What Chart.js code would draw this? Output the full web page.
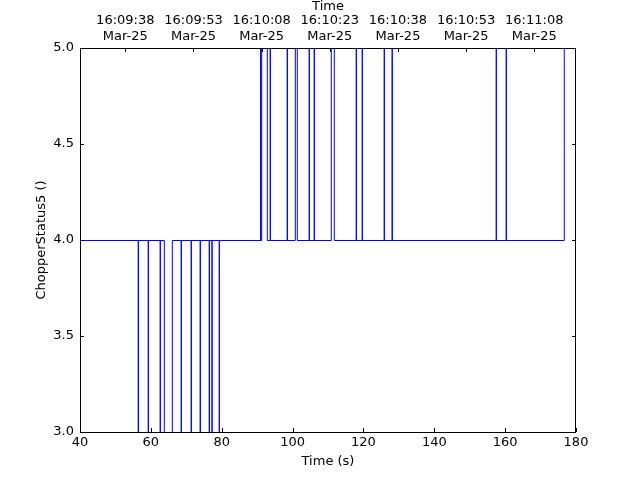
<!DOCTYPE html>
<html>
<head>
<meta charset="utf-8">
<script src="https://cdn.jsdelivr.net/npm/chart.js@4"></script>
<style>
  body { margin: 0; background: #fff; }
  canvas { display: block; }
</style>
</head>
<body>
<canvas id="chopper-chart" width="640" height="480"></canvas>
<script>
// Step samples (time in s, chopper status)
const times = [40, 56.46, 56.46, 59.28, 59.28, 62.66, 62.66, 63.79, 66.05, 68.59, 68.59,
  71.41, 71.41, 73.95, 73.95, 76.5, 76.5, 77.26, 77.26, 79.32, 79.32,
  91.0, 91.0, 91.28, 92.87, 93.71, 93.71, 98.51, 98.51, 100.77, 101.33,
  104.72, 104.72, 106.13, 106.13, 110.93, 111.78, 117.99, 117.99, 119.68, 119.68,
  125.89, 125.89, 128.12, 128.12, 157.5, 157.5, 160.32, 160.32, 176.69];
const status = [4, 3, 4, 3, 4, 3, 4, 3, 4, 3, 4,
  3, 4, 3, 4, 3, 4, 3, 4, 3, 4,
  5, 4, 5, 4, 5, 4, 5, 4, 5, 4,
  5, 4, 5, 4, 5, 4, 5, 4, 5, 4,
  5, 4, 5, 4, 5, 4, 5, 4, 5];

// Top axis: wall clock labels
const clockTickTimes = [52.79, 72.03, 91.27, 110.5, 129.74, 148.98, 168.22];
const clockLabels = ['16:09:38', '16:09:53', '16:10:08', '16:10:23', '16:10:38', '16:10:53', '16:11:08'];
const dateLabels = ['Mar-25', 'Mar-25', 'Mar-25', 'Mar-25', 'Mar-25', 'Mar-25', 'Mar-25'];

const xTicks = [40, 60, 80, 100, 120, 140, 160, 180];
const yTicks = [3.0, 3.5, 4.0, 4.5, 5.0];

Chart.defaults.font.family = 'DejaVu Sans';
Chart.defaults.font.size = 13;
Chart.defaults.color = '#000';

// Frame and inward tick marks, matplotlib style
const framePlugin = {
  id: 'frame',
  beforeDatasetsDraw(chart) {
    // half pixel shift so the flat parts of the step line are crisp
    chart.ctx.save();
    chart.ctx.translate(0, 0.5);
  },
  afterDatasetsDraw(chart) {
    const { ctx, chartArea: a, scales } = chart;
    ctx.restore();
    ctx.save();
    ctx.strokeStyle = '#000';
    ctx.lineWidth = 1;
    const len = 4;
    ctx.beginPath();
    scales.x.ticks.forEach(t => {
      const px = Math.round(scales.x.getPixelForValue(t.value)) + 0.5;
      ctx.moveTo(px, a.bottom);
      ctx.lineTo(px, a.bottom - len);
    });
    scales.x2.ticks.forEach(t => {
      const px = Math.round(scales.x2.getPixelForValue(t.value)) + 0.5;
      ctx.moveTo(px, a.top);
      ctx.lineTo(px, a.top + len);
    });
    scales.y.ticks.forEach(t => {
      const py = Math.round(scales.y.getPixelForValue(t.value)) + 0.5;
      ctx.moveTo(a.left, py);
      ctx.lineTo(a.left + len, py);
      ctx.moveTo(a.right, py);
      ctx.lineTo(a.right - len, py);
    });
    ctx.stroke();
    ctx.strokeRect(a.left + 0.5, a.top + 0.5, a.right - a.left - 1, a.bottom - a.top);
    ctx.restore();
  }
};

const ctx = document.getElementById('chopper-chart').getContext('2d');
new Chart(ctx, {
  type: 'line',
  data: {
    datasets: [
      {
        data: times.map((t, i) => ({ x: t, y: status[i] })),
        borderColor: '#0000ff',
        borderWidth: 1,
        pointRadius: 0,
        fill: false,
        stepped: true,
      },
    ],
  },
  options: {
    responsive: false,
    animation: false,
    layout: { padding: { left: 0, right: 64, top: 0, bottom: 0 } },
    plugins: {
      legend: { display: false },
      tooltip: { enabled: false },
    },
    scales: {
      x: {
        type: 'linear',
        position: 'bottom',
        min: 40,
        max: 180,
        afterFit: s => { s.height = 48; },
        afterBuildTicks: s => { s.ticks = xTicks.map(v => ({ value: v })); },
        grid: { display: false, drawTicks: false },
        border: { display: false },
        ticks: { padding: 3, maxRotation: 0, autoSkip: false },
        title: { display: true, text: 'Time (s)', padding: { top: 0, bottom: 11 } },
      },
      x2: {
        type: 'linear',
        position: 'top',
        min: 40,
        max: 180,
        afterFit: s => { s.height = 48; },
        afterBuildTicks: s => { s.ticks = clockTickTimes.map(v => ({ value: v })); },
        grid: { display: false, drawTicks: false },
        border: { display: false },
        ticks: {
          padding: 4,
          maxRotation: 0,
          autoSkip: false,
          callback: (v, i) => [clockLabels[i], dateLabels[i]],
        },
        title: { display: true, text: 'Time', padding: { top: -1, bottom: 0 } },
      },
      y: {
        type: 'linear',
        min: 3,
        max: 5,
        afterFit: s => { s.width = 80; },
        afterBuildTicks: s => { s.ticks = yTicks.map(v => ({ value: v })); },
        grid: { display: false, drawTicks: false },
        border: { display: false },
        ticks: { padding: 6, callback: v => v.toFixed(1) },
        title: { display: true, text: 'ChopperStatus5 ()', padding: { top: 34, bottom: 0 } },
      },
    },
  },
  plugins: [framePlugin],
});
</script>
</body>
</html>
